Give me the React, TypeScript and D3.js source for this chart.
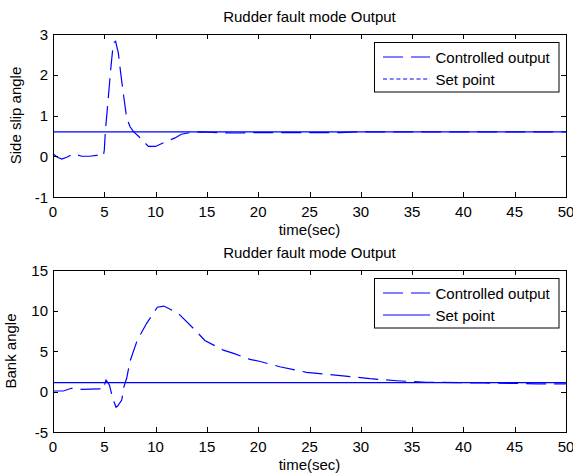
import React from "react";
import * as d3 from "d3";

const title = "Rudder fault mode Output";
const xLabel = "time(sec)";
const legendLabels = ["Controlled output", "Set point"];

const xTicks = [0, 5, 10, 15, 20, 25, 30, 35, 40, 45, 50];
const yTicksTop = [-1, 0, 1, 2, 3];
const yTicksBottom = [-5, 0, 5, 10, 15];

const sideSlipTime = [0, 0.4, 0.85, 1.4, 2.0, 2.8, 3.6, 4.2, 4.6, 4.9, 5.0, 5.1, 5.4, 5.65, 5.88, 6.1, 6.37, 6.6, 6.85, 7.18, 7.5, 7.83, 8.5, 9.3, 10.0, 11.0, 11.9, 12.5, 13.35, 14.5, 16, 18, 20, 22, 24, 26, 28, 29, 30, 35, 40, 45, 50];
const sideSlipValue = [0.06, -0.02, -0.07, -0.02, 0.06, 0.0, 0.0, 0.02, 0.03, 0.0, 0.15, 0.6, 1.47, 2.2, 2.78, 2.82, 2.53, 2.04, 1.55, 0.94, 0.73, 0.61, 0.45, 0.24, 0.24, 0.36, 0.45, 0.54, 0.58, 0.6, 0.58, 0.57, 0.58, 0.58, 0.58, 0.58, 0.58, 0.59, 0.6, 0.6, 0.6, 0.6, 0.6];
const sideSlipSetPoint = 0.6;

const bankTime = [0, 1.0, 1.8, 2.8, 3.6, 4.6, 4.85, 5.17, 5.5, 5.8, 6.14, 6.3, 6.7, 6.92, 7.18, 7.5, 8.22, 9.13, 10.17, 10.8, 12.2, 13.84, 14.8, 16.6, 17.6, 19.2, 20.2, 22.1, 24.7, 28.5, 30.9, 33.5, 36.4, 39.5, 42, 45, 47.1, 50];
const bankValue = [0.06, 0.06, 0.4, 0.27, 0.3, 0.33, 0.2, 1.42, 0.8, -0.72, -1.95, -1.8, -1.05, 0.6, 1.63, 3.7, 6.36, 8.42, 10.4, 10.55, 9.65, 7.6, 6.3, 5.1, 4.7, 3.97, 3.7, 3.06, 2.37, 1.91, 1.58, 1.33, 1.13, 1.1, 1.05, 1.0, 0.93, 0.95];
const bankSetPoint = 1.1;

const FONT = "'Liberation Sans', Arial, sans-serif";
const FS = 15;
const BLUE = "#0000ff";
const DASH = "20,8";

type PanelProps = {
  top: number;
  bottom: number;
  yDomain: [number, number];
  yTicks: number[];
  times: number[];
  values: number[];
  setPoint: number;
  yLabel: string;
  yLabelX: number;
  setPointLegendDash: string | undefined;
};

const LEFT = 53;
const RIGHT = 566;
const TICK = 5;

function Panel(p: PanelProps) {
  const x = d3.scaleLinear().domain([0, 50]).range([LEFT, RIGHT]);
  const y = d3.scaleLinear().domain(p.yDomain).range([p.bottom, p.top]);
  const pts = p.times.map((t, i) => [t, p.values[i]] as [number, number]);
  const line = d3.line<[number, number]>().x((d) => x(d[0])).y((d) => y(d[1]));
  const midY = (p.top + p.bottom) / 2;
  const lg = { x0: 374.5, x1: 559, y0: p.top + 8.5, y1: p.top + 58 };
  return (
    <g>
      <text x={(LEFT + RIGHT) / 2} y={p.top - 12} textAnchor="middle" fontSize={FS} fontFamily={FONT}>{title}</text>
      <line x1={x(0)} x2={x(50)} y1={y(p.setPoint)} y2={y(p.setPoint)} stroke={BLUE} strokeWidth={1.2} />
      <path d={line(pts) || ""} fill="none" stroke={BLUE} strokeWidth={1.2} strokeDasharray={DASH} />
      <rect x={LEFT + 0.5} y={p.top + 0.5} width={RIGHT - LEFT} height={p.bottom - p.top} fill="none" stroke="#000" strokeWidth={1} />
      {xTicks.map((t) => (
        <g key={"x" + t}>
          <line x1={Math.round(x(t)) + 0.5} x2={Math.round(x(t)) + 0.5} y1={p.bottom} y2={p.bottom - TICK} stroke="#000" />
          <line x1={Math.round(x(t)) + 0.5} x2={Math.round(x(t)) + 0.5} y1={p.top} y2={p.top + TICK} stroke="#000" />
          <text x={x(t)} y={p.bottom + 19.5} textAnchor="middle" fontSize={FS} fontFamily={FONT}>{t}</text>
        </g>
      ))}
      {p.yTicks.map((v) => (
        <g key={"y" + v}>
          <line x1={LEFT} x2={LEFT + TICK} y1={Math.round(y(v)) + 0.5} y2={Math.round(y(v)) + 0.5} stroke="#000" />
          <line x1={RIGHT} x2={RIGHT - TICK} y1={Math.round(y(v)) + 0.5} y2={Math.round(y(v)) + 0.5} stroke="#000" />
          <text x={LEFT - 5} y={y(v) + 5.5} textAnchor="end" fontSize={FS} fontFamily={FONT}>{v}</text>
        </g>
      ))}
      <text x={(LEFT + RIGHT) / 2} y={p.bottom + 38} textAnchor="middle" fontSize={FS} fontFamily={FONT}>{xLabel}</text>
      <text transform={`translate(${p.yLabelX},${midY}) rotate(-90)`} textAnchor="middle" fontSize={FS} fontFamily={FONT}>{p.yLabel}</text>
      <rect x={lg.x0} y={lg.y0} width={lg.x1 - lg.x0} height={lg.y1 - lg.y0} fill="#fff" stroke="#000" />
      <line x1={383} x2={430} y1={lg.y0 + 14.5} y2={lg.y0 + 14.5} stroke={BLUE} strokeWidth={1.2} strokeDasharray={DASH} />
      <text x={435.5} y={lg.y0 + 20.5} fontSize={FS} fontFamily={FONT}>{legendLabels[0]}</text>
      <line x1={383} x2={430} y1={lg.y0 + 36.5} y2={lg.y0 + 36.5} stroke={BLUE} strokeWidth={1.2} strokeDasharray={p.setPointLegendDash} />
      <text x={435.5} y={lg.y0 + 42} fontSize={FS} fontFamily={FONT}>{legendLabels[1]}</text>
    </g>
  );
}

export default function App() {
  return (
    <svg width={573} height={475} style={{ position: "absolute", left: 0, top: 0, background: "#fff" }}>
      <rect width={573} height={475} fill="#fff" />
      <Panel top={34} bottom={197} yDomain={[-1, 3]} yTicks={yTicksTop} times={sideSlipTime} values={sideSlipValue}
        setPoint={sideSlipSetPoint} yLabel="Side slip angle" yLabelX={21} setPointLegendDash="4,2.7" />
      <Panel top={270} bottom={432} yDomain={[-5, 15]} yTicks={yTicksBottom} times={bankTime} values={bankValue}
        setPoint={bankSetPoint} yLabel="Bank angle" yLabelX={16} setPointLegendDash={undefined} />
    </svg>
  );
}
